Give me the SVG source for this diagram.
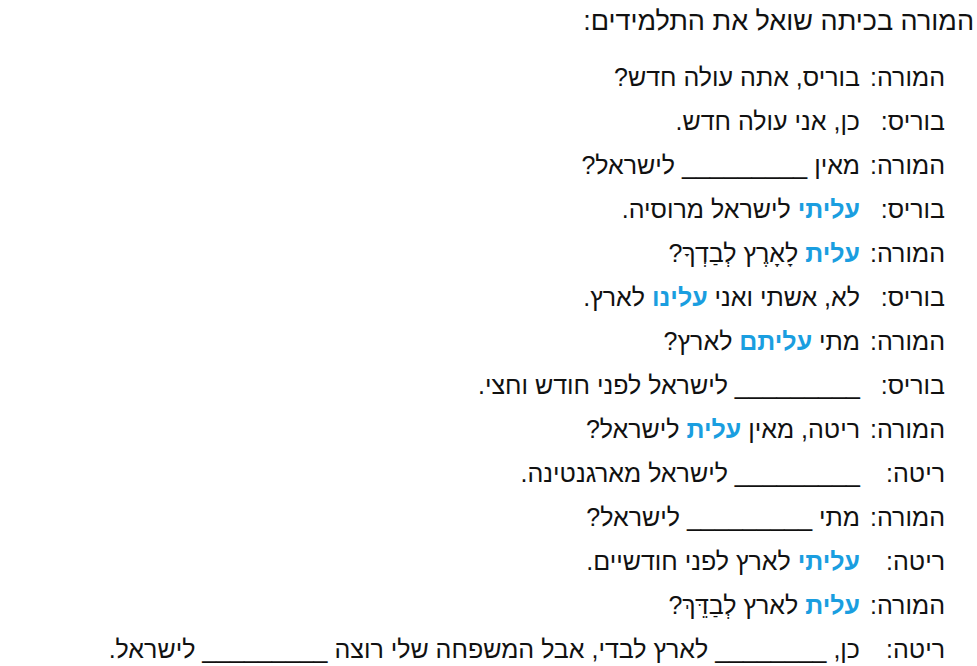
<svg xmlns="http://www.w3.org/2000/svg" width="977" height="666" viewBox="0 0 977 666">
<style>
text{font-family:"Liberation Sans","DejaVu Sans",sans-serif;font-size:25px;fill:#111;direction:rtl;text-anchor:start}
.t{font-size:27px}
.b{fill:#1a9ee0;font-weight:bold}
</style>
<rect width="977" height="666" fill="#fff"/>
<g id="title"><text class="t" x="974" y="30">המורה בכיתה שואל את התלמידים:</text></g>
<g id="speakers">
<text x="945" y="86">המורה:</text>
<text x="945" y="130">בוריס:</text>
<text x="945" y="174">המורה:</text>
<text x="945" y="218">בוריס:</text>
<text x="945" y="262">המורה:</text>
<text x="945" y="306">בוריס:</text>
<text x="945" y="350">המורה:</text>
<text x="945" y="394">בוריס:</text>
<text x="945" y="438">המורה:</text>
<text x="945" y="482">ריטה:</text>
<text x="945" y="526">המורה:</text>
<text x="945" y="570">ריטה:</text>
<text x="945" y="614">המורה:</text>
<text x="945" y="658">ריטה:</text>
</g>
<g id="lines">
<text x="860" y="86">בוריס, אתה עולה חדש?</text>
<text x="860" y="130">כן, אני עולה חדש.</text>
<text x="860" y="174">מאין _________ לישראל?</text>
<text x="860" y="218"><tspan class="b">עליתי</tspan> לישראל מרוסיה.</text>
<text x="860" y="262"><tspan class="b">עלית</tspan> לָאָרֶץ לְבַדְךָ?</text>
<text x="860" y="306">לא, אשתי ואני <tspan class="b">עלינו</tspan> לארץ.</text>
<text x="860" y="350">מתי <tspan class="b">עליתם</tspan> לארץ?</text>
<text x="860" y="394">_________ לישראל לפני חודש וחצי.</text>
<text x="860" y="438">ריטה, מאין <tspan class="b">עלית</tspan> לישראל?</text>
<text x="860" y="482">_________ לישראל מארגנטינה.</text>
<text x="860" y="526">מתי _________ לישראל?</text>
<text x="860" y="570"><tspan class="b">עליתי</tspan> לארץ לפני חודשיים.</text>
<text x="860" y="614"><tspan class="b">עלית</tspan> לארץ לְבַדֵּךְ?</text>
<text x="860" y="658">כן, ________ לארץ לבדי, אבל המשפחה שלי רוצה _________ לישראל.</text>
</g>
</svg>
